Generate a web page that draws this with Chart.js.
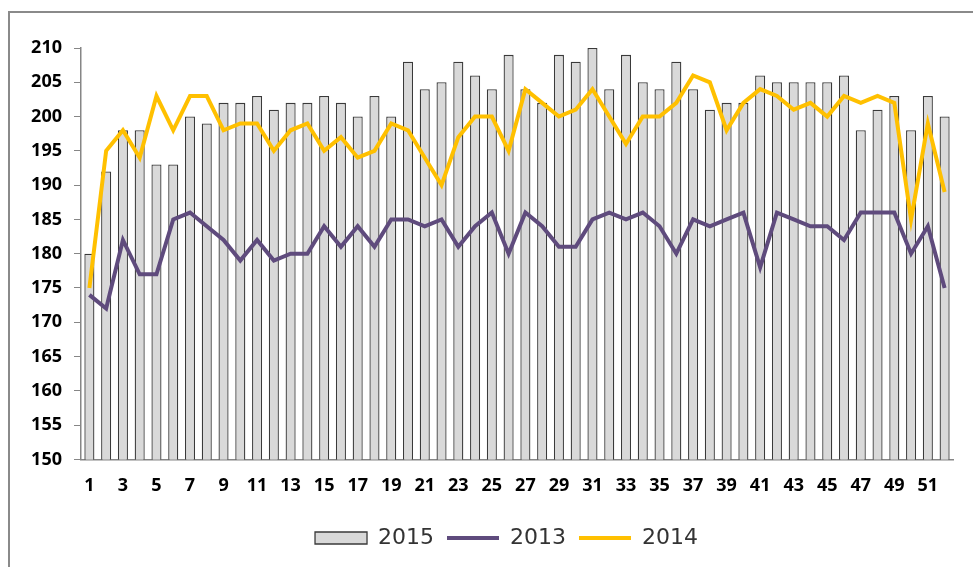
<!DOCTYPE html>
<html>
<head>
<meta charset="utf-8">
<script src="https://cdn.jsdelivr.net/npm/chart.js@4.4.1/dist/chart.umd.min.js"></script>
<style>
  html, body { margin: 0; padding: 0; background: #ffffff; overflow: hidden; }
  #frame { position: absolute; left: 8px; top: 11px; width: 1100px; height: 700px; border: 2px solid #8a8a8a; box-sizing: border-box; }
  #wrap { position: absolute; left: 0; top: 0; width: 973px; height: 567px; }
</style>
</head>
<body>
<div id="frame"></div>
<div id="wrap"><canvas id="c" width="973" height="567"></canvas></div>
<script>
const weeks = ['1','2','3','4','5','6','7','8','9','10','11','12','13','14','15','16','17','18','19','20','21','22','23','24','25','26','27','28','29','30','31','32','33','34','35','36','37','38','39','40','41','42','43','44','45','46','47','48','49','50','51','52'];
const values2015 = [180,192,198,198,193,193,200,199,202,202,203,201,202,202,203,202,200,203,200,208,204,205,208,206,204,209,204,202,209,208,210,204,209,205,204,208,204,201,202,202,206,205,205,205,205,206,198,201,203,198,203,200];
const values2013 = [174,172,182,177,177,185,186,184,182,179,182,179,180,180,184,181,184,181,185,185,184,185,181,184,186,180,186,184,181,181,185,186,185,186,184,180,185,184,185,186,178,186,185,184,184,182,186,186,186,180,184,175];
const values2014 = [175,195,198,194,203,198,203,203,198,199,199,195,198,199,195,197,194,195,199,198,194,190,197,200,200,195,204,202,200,201,204,200,196,200,200,202,206,205,198,202,204,203,201,202,200,203,202,203,202,185,199,189];
const yMin = 150, yMax = 210, yStep = 5;

const tickFont = { family: 'Open Sans', size: 18, weight: 'bold' };

// shift the legend box so it centres like the original
const legendShift = {
  id: 'legendShift',
  afterLayout(chart) {
    if (chart.legend) {
      chart.legend.left = 60;
      chart.legend.width = chart.legend.right - chart.legend.left;
    }
  }
};

new Chart(document.getElementById('c'), {
  data: {
    labels: weeks,
    datasets: [
      { type: 'bar', label: '2015', data: values2015, backgroundColor: '#d9d9d9', borderColor: '#3a3a3a', borderWidth: 1.3, barPercentage: 0.6, categoryPercentage: 1.0, order: 3 },
      { type: 'line', label: '2013', data: values2013, borderColor: '#5f4b7d', backgroundColor: '#5f4b7d', borderWidth: 4, pointRadius: 0, tension: 0, order: 2 },
      { type: 'line', label: '2014', data: values2014, borderColor: '#ffc000', backgroundColor: '#ffc000', borderWidth: 4, pointRadius: 0, tension: 0, order: 1 }
    ]
  },
  plugins: [legendShift],
  options: {
    responsive: false,
    animation: false,
    devicePixelRatio: 1,
    layout: { padding: { left: 0, right: 20, top: 48, bottom: 8 } },
    plugins: {
      tooltip: { enabled: false },
      legend: {
        position: 'bottom',
        labels: {
          usePointStyle: true,
          pointStyleWidth: 52,
          boxHeight: 12,
          padding: 13,
          color: '#333333',
          font: { family: 'DejaVu Sans', size: 22 },
          sort: (a, b) => a.datasetIndex - b.datasetIndex,
          generateLabels: (chart) => {
            const items = Chart.defaults.plugins.legend.labels.generateLabels(chart);
            items.forEach(it => {
              const ds = chart.data.datasets[it.datasetIndex];
              if (ds.type === 'bar') {
                it.pointStyle = 'rect';
                it.fillStyle = '#d9d9d9';
                it.strokeStyle = '#3a3a3a';
                it.lineWidth = 1.3;
              } else {
                it.pointStyle = 'line';
                it.strokeStyle = ds.borderColor;
                it.lineWidth = 4;
              }
            });
            return items;
          }
        }
      }
    },
    scales: {
      x: {
        offset: true,
        afterFit: (scale) => { scale.height += 1; },
        grid: { display: true, drawOnChartArea: false, drawTicks: false },
        border: { display: true, color: '#868686', width: 1.5 },
        ticks: {
          autoSkip: false, maxRotation: 0, padding: 16, color: '#000000', font: tickFont,
          callback: function (val, idx) { return idx % 2 === 0 ? weeks[idx] : ''; }
        }
      },
      y: {
        min: yMin, max: yMax,
        afterFit: (scale) => { scale.width = 81; },
        grid: { drawOnChartArea: false, drawTicks: true, tickLength: 7, color: '#868686' },
        border: { display: true, color: '#868686', width: 1.5 },
        ticks: { stepSize: yStep, padding: 12, color: '#000000', font: tickFont }
      }
    }
  }
});
</script>
</body>
</html>
